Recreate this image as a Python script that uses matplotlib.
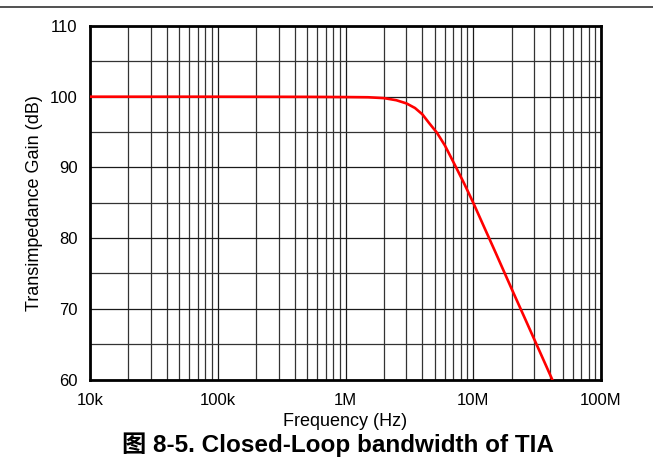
import numpy as np
import matplotlib.pyplot as plt
from matplotlib.lines import Line2D
from matplotlib.ticker import FixedLocator, LogLocator, NullFormatter

plt.rcParams['font.family'] = ['Liberation Sans', 'Noto Sans CJK SC', 'DejaVu Sans']

# values
freq_hz = [1e4, 1e5, 5e5, 1e6, 1.5e6, 2e6, 2.5e6, 3e6, 3.5e6, 4e6, 4.5e6,
           5.2e6, 6e6, 7.2e6, 8.5e6, 10e6, 12e6, 15e6, 20e6, 25e6, 30e6, 35e6, 41.5e6]
gain_db = [100.0, 100.0, 99.98, 99.95, 99.92, 99.8, 99.5, 99.05, 98.4, 97.5, 96.3,
           94.9, 93.1, 90.3, 87.7, 85.0, 81.8, 77.9, 72.8, 68.9, 65.7, 63.0, 60.0]

x_ticks = [1e4, 1e5, 1e6, 1e7, 1e8]
x_labels = ["10k", "100k", "1M", "10M", "100M"]
y_ticks = [60, 70, 80, 90, 100, 110]

fig = plt.figure(figsize=(6.53, 4.76), dpi=100)
ax = fig.add_axes([90/653, 1 - 379.5/476, 511/653, 353.5/476])

ax.plot(freq_hz, gain_db, color="#ff0000", lw=1.9, zorder=3)

ax.set_xscale("log")
ax.set_xlim(1e4, 1e8)
ax.set_ylim(60, 110)
ax.set_xticks(x_ticks)
ax.set_xticklabels(x_labels)
ax.xaxis.set_minor_locator(LogLocator(base=10, subs=np.arange(2, 10)))
ax.xaxis.set_minor_formatter(NullFormatter())
ax.set_yticks(y_ticks)
ax.yaxis.set_minor_locator(FixedLocator(np.arange(65, 110, 10)))

ax.grid(True, which="major", color="#1a1a1a", lw=0.9)
ax.grid(True, which="minor", color="#333333", lw=0.9)
ax.tick_params(which="both", length=0, labelsize=12)
ax.tick_params(axis="x", pad=10)
ax.tick_params(axis="y", pad=9)
for s in ax.spines.values():
    s.set_linewidth(2.0)
    s.set_color("black")

ax.set_xlabel("Frequency (Hz)", fontsize=13, labelpad=3)
ax.set_ylabel("Transimpedance Gain (dB)", fontsize=13, labelpad=5)

fig.add_artist(Line2D([0, 1], [1 - 7/476, 1 - 7/476], color="#333333", lw=1.2))
fig.text(0.517, 1 - 445/476, "图 8-5. Closed-Loop bandwidth of TIA",
         ha="center", va="center", fontsize=17.5, fontweight="bold")

fig.savefig("out.png", dpi=100)
